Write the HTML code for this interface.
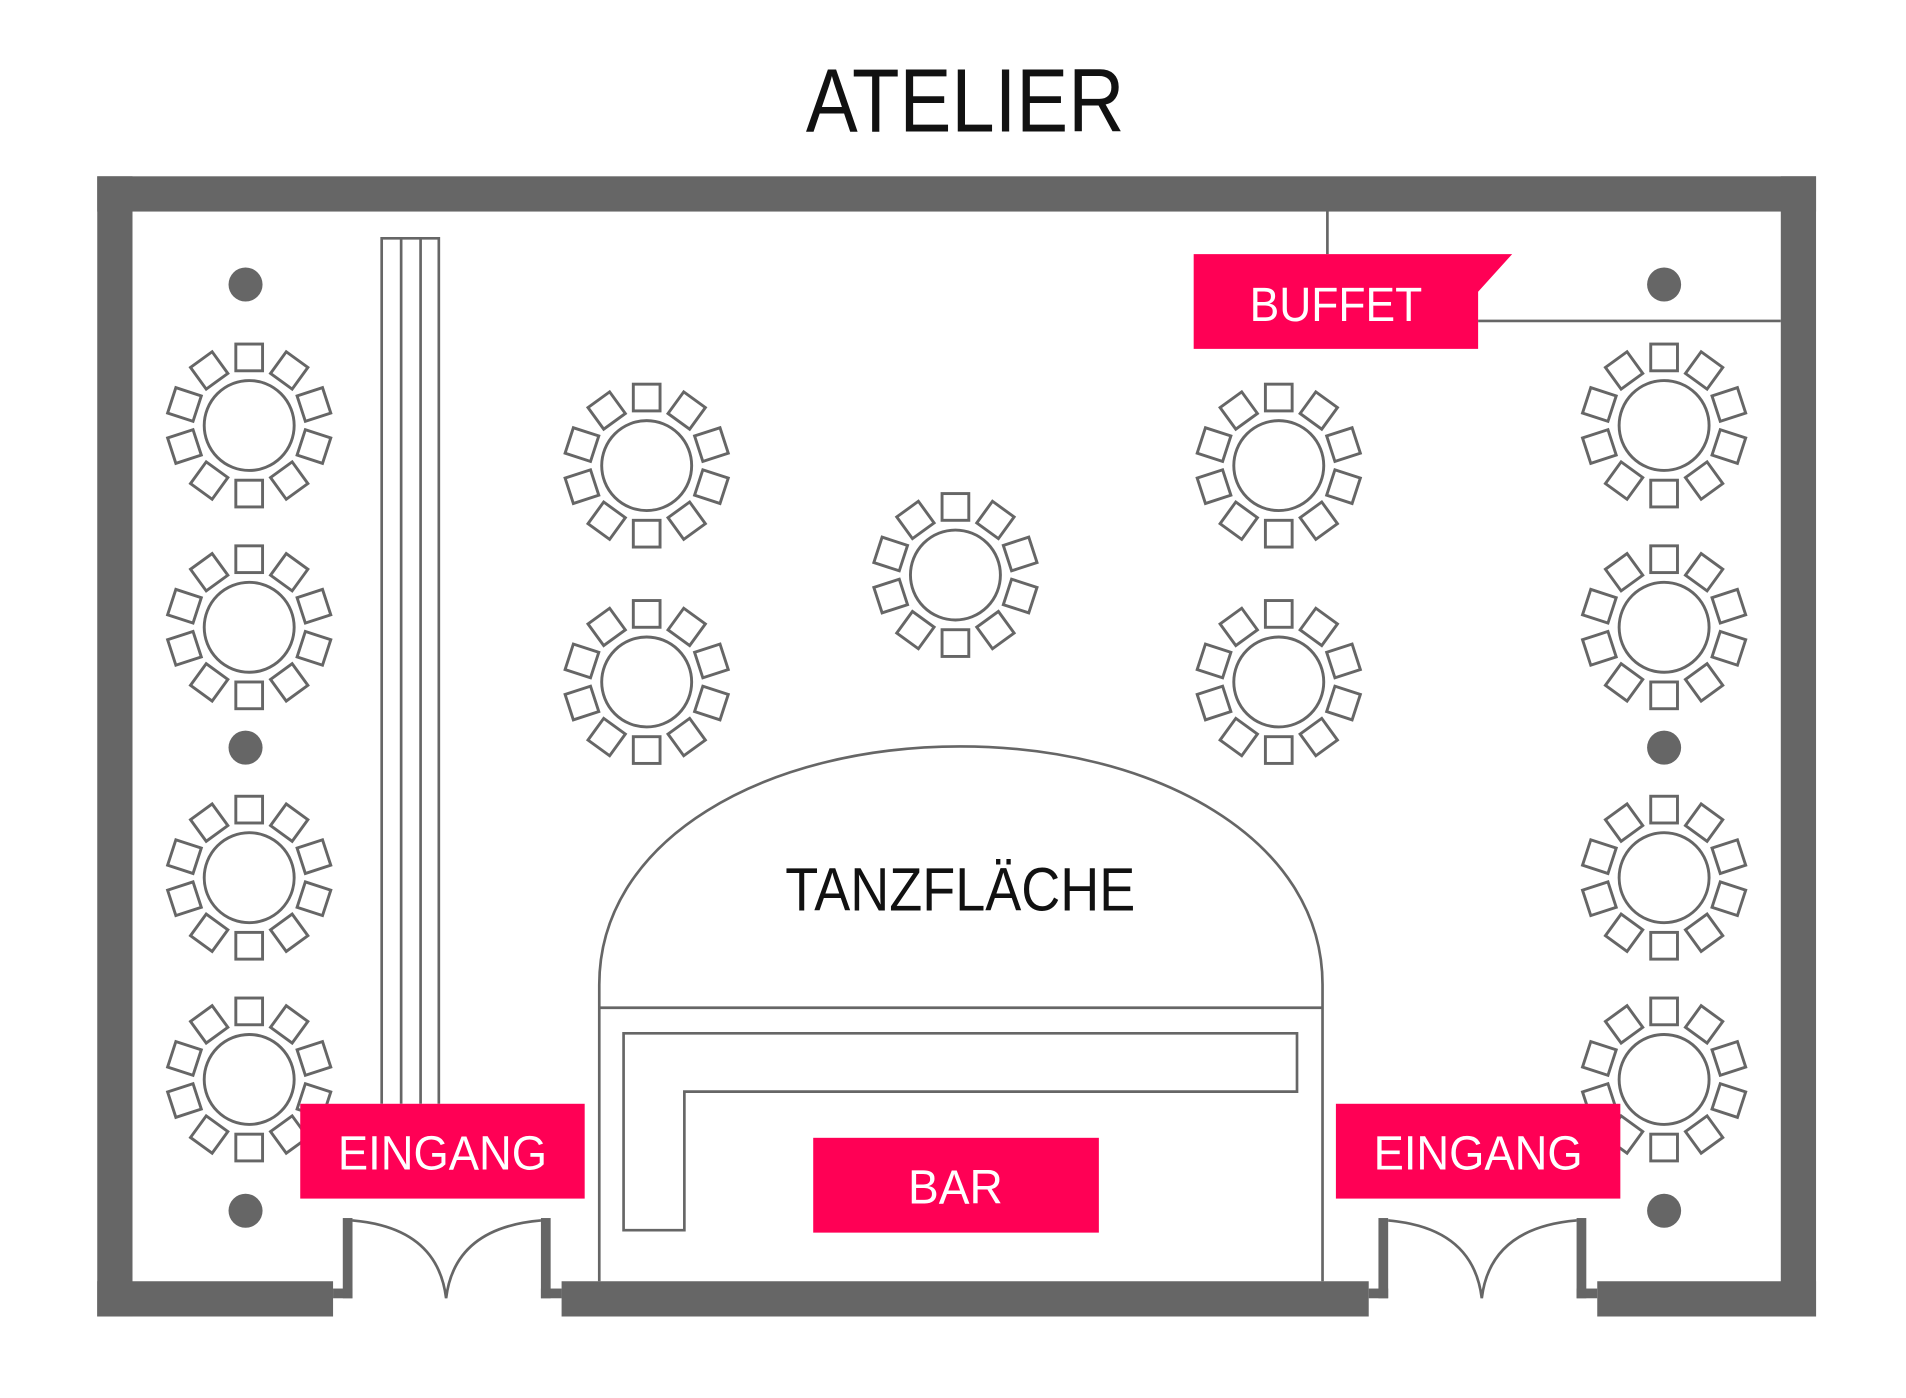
<!DOCTYPE html>
<html><head><meta charset="utf-8"><style>
html,body{margin:0;padding:0;background:#fff;}
svg{display:block;}
</style></head><body>
<svg width="1906" height="1398" viewBox="0 0 1568 1150" xmlns="http://www.w3.org/2000/svg">
<defs>
<g id="t" fill="none" stroke="#666" stroke-width="2.4">
<circle r="37"/>
<g id="c"><rect x="-11" y="-67" width="22" height="22"/></g>
<use href="#c" transform="rotate(36)"/>
<use href="#c" transform="rotate(72)"/>
<use href="#c" transform="rotate(108)"/>
<use href="#c" transform="rotate(144)"/>
<use href="#c" transform="rotate(180)"/>
<use href="#c" transform="rotate(216)"/>
<use href="#c" transform="rotate(252)"/>
<use href="#c" transform="rotate(288)"/>
<use href="#c" transform="rotate(324)"/>
</g>
</defs>
<rect width="1568" height="1150" fill="#fff"/>
<text x="794" y="108" font-family="Liberation Sans, sans-serif" font-size="74" fill="#111" text-anchor="middle" textLength="262" lengthAdjust="spacingAndGlyphs">ATELIER</text>
<!-- walls -->
<g fill="#666">
<rect x="80" y="145" width="1414" height="29"/>
<rect x="80" y="145" width="29" height="938"/>
<rect x="1465" y="145" width="29" height="938"/>
<rect x="80" y="1054" width="194" height="29"/>
<rect x="462" y="1054" width="664" height="29"/>
<rect x="1314" y="1054" width="180" height="29"/>
<!-- door posts -->
<rect x="282" y="1002" width="8" height="66"/><rect x="274" y="1060" width="16" height="8"/>
<rect x="445" y="1002" width="8" height="66"/><rect x="445" y="1060" width="17" height="8"/>
<rect x="1134" y="1002" width="8" height="66"/><rect x="1126" y="1060" width="16" height="8"/>
<rect x="1297" y="1002" width="8" height="66"/><rect x="1297" y="1060" width="17" height="8"/>
<!-- pillars -->
<circle cx="202" cy="234" r="14"/><circle cx="202" cy="615" r="14"/><circle cx="202" cy="996" r="14"/>
<circle cx="1369" cy="234" r="14"/><circle cx="1369" cy="615" r="14"/><circle cx="1369" cy="996" r="14"/>
</g>
<g fill="none" stroke="#666" stroke-width="2.2">
<!-- doors arcs -->
<path d="M290 1004 Q360 1010 367 1068 Q374 1010 445 1004"/>
<path d="M1142 1004 Q1212 1010 1219 1068 Q1226 1010 1297 1004"/>
<!-- curtain -->
<path d="M314 908 V196 H361 V908 M330 196 V908 M346 196 V908"/>
<!-- dance floor -->
<path d="M493 1054 V810 C493 690 630 614 790 614 C950 614 1088 690 1088 810 V1054"/>
<path d="M493 829 H1088"/>
<path d="M513 850 H1067 V898 H563 V1012 H513 Z"/>
<!-- buffet lines -->
<path d="M1092 174 V209 M1216 264 H1465"/>
</g>
<text x="790" y="749" font-family="Liberation Sans, sans-serif" font-size="50" fill="#111" text-anchor="middle" textLength="288" lengthAdjust="spacingAndGlyphs">TANZFLÄCHE</text>
<!-- tables -->
<use href="#t" x="205" y="350"/><use href="#t" x="205" y="516"/><use href="#t" x="205" y="722"/><use href="#t" x="205" y="888"/>
<use href="#t" x="1369" y="350"/><use href="#t" x="1369" y="516"/><use href="#t" x="1369" y="722"/><use href="#t" x="1369" y="888"/>
<use href="#t" x="532" y="383"/><use href="#t" x="532" y="561"/>
<use href="#t" x="1052" y="383"/><use href="#t" x="1052" y="561"/>
<use href="#t" x="786" y="473"/>
<!-- labels -->
<g fill="#ff0055">
<path d="M982 209 H1244 L1216 240 V287 H982 Z"/>
<rect x="247" y="908" width="234" height="78"/>
<rect x="1099" y="908" width="234" height="78"/>
<rect x="669" y="936" width="235" height="78"/>
</g>
<g font-family="Liberation Sans, sans-serif" font-size="40" fill="#fff" text-anchor="middle">
<text x="1099" y="264" textLength="142" lengthAdjust="spacingAndGlyphs">BUFFET</text>
<text x="364" y="962" textLength="172" lengthAdjust="spacingAndGlyphs">EINGANG</text>
<text x="1216" y="962" textLength="172" lengthAdjust="spacingAndGlyphs">EINGANG</text>
<text x="786" y="990" textLength="78" lengthAdjust="spacingAndGlyphs">BAR</text>
</g>
</svg>
</body></html>
